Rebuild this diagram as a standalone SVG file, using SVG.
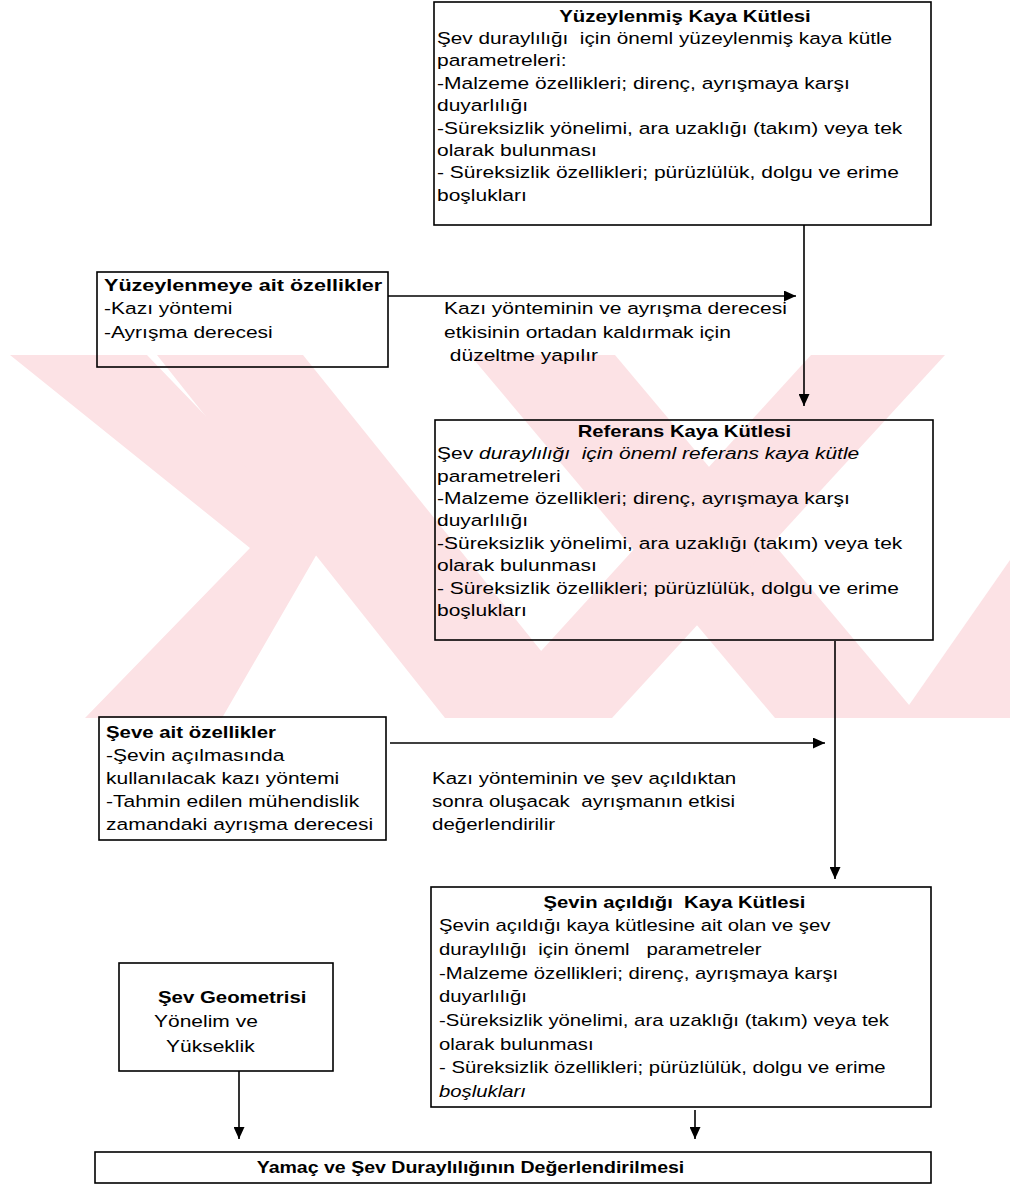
<svg xmlns="http://www.w3.org/2000/svg" width="1010" height="1194" viewBox="0 0 1010 1194">
<defs>
<style>
text{font-family:"Liberation Sans",Arial,sans-serif;font-size:17px;fill:#000;white-space:pre}
.b{font-weight:bold}
.i{font-style:italic}
.box{fill:none;stroke:#000;stroke-width:1.6}
.con{fill:none;stroke:#000;stroke-width:1.6}
.wm{fill:#fce2e5;stroke:none}
</style>
<marker id="arr" markerWidth="12" markerHeight="11" refX="12" refY="5.5" orient="auto" markerUnits="userSpaceOnUse"><path d="M0,0 L12,5.5 L0,11 z" fill="#000"/></marker>
</defs>
<rect width="1010" height="1194" fill="#fff"/>
<g id="watermark">
<polygon class="wm" points="10,355 147,355 325,540 222,718 85,718 250,548"/>
<polygon class="wm" points="157,355 303,355 595,718 445,718"/>
<polygon class="wm" points="470,355 615,355 920,718 775,718"/>
<polygon class="wm" points="811,355 945,355 612,718 480,718"/>
<polygon class="wm" points="1010,560 1010,718 900,718"/>
</g>
<g id="connectors">
<line class="con" x1="804" y1="225" x2="804" y2="406" marker-end="url(#arr)"/>
<line class="con" x1="388" y1="296" x2="796" y2="296" marker-end="url(#arr)"/>
<line class="con" x1="835" y1="641" x2="835" y2="879" marker-end="url(#arr)"/>
<line class="con" x1="390" y1="743" x2="825" y2="743" marker-end="url(#arr)"/>
<line class="con" x1="239" y1="1071" x2="239" y2="1139" marker-end="url(#arr)"/>
<line class="con" x1="695" y1="1110" x2="695" y2="1139" marker-end="url(#arr)"/>
<text transform="translate(444,314) scale(1.235,1)">Kazı yönteminin ve ayrışma derecesi</text>
<text transform="translate(444,338) scale(1.235,1)">etkisinin ortadan kaldırmak için</text>
<text transform="translate(444,361) scale(1.235,1)"> düzeltme yapılır</text>
<text transform="translate(432,784) scale(1.206,1)">Kazı yönteminin ve şev açıldıktan</text>
<text transform="translate(432,807) scale(1.206,1)">sonra oluşacak  ayrışmanın etkisi</text>
<text transform="translate(432,830) scale(1.206,1)">değerlendirilir</text>
</g>
<g id="yuzeylenmis">
<rect class="box" x="434" y="2" width="497" height="223"/>
<text class="b" text-anchor="middle" transform="translate(685,21.5) scale(1.2,1)">Yüzeylenmiş Kaya Kütlesi</text>
<text transform="translate(437,43.9) scale(1.22,1)">Şev duraylılığı  için öneml yüzeylenmiş kaya kütle</text>
<text transform="translate(437,66.3) scale(1.235,1)">parametreleri:</text>
<text transform="translate(437,88.7) scale(1.235,1)">-Malzeme özellikleri; direnç, ayrışmaya karşı</text>
<text transform="translate(437,111.1) scale(1.235,1)">duyarlılığı</text>
<text transform="translate(437,133.5) scale(1.235,1)">-Süreksizlik yönelimi, ara uzaklığı (takım) veya tek</text>
<text transform="translate(437,155.9) scale(1.235,1)">olarak bulunması</text>
<text transform="translate(437,178.3) scale(1.235,1)">- Süreksizlik özellikleri; pürüzlülük, dolgu ve erime</text>
<text transform="translate(437,200.7) scale(1.235,1)">boşlukları</text>
</g>
<g id="yuzeylenmeye">
<rect class="box" x="97" y="272" width="291" height="95"/>
<text class="b" transform="translate(104,291) scale(1.27,1)">Yüzeylenmeye ait özellikler</text>
<text transform="translate(104,314) scale(1.235,1)">-Kazı yöntemi</text>
<text transform="translate(104,338) scale(1.235,1)">-Ayrışma derecesi</text>
</g>
<g id="referans">
<rect class="box" x="435" y="420" width="498" height="220"/>
<text class="b" text-anchor="middle" transform="translate(684.5,436.7) scale(1.19,1)">Referans Kaya Kütlesi</text>
<text transform="translate(437,459.1) scale(1.235,1)">Şev <tspan class="i">duraylılığı  için öneml referans kaya kütle</tspan></text>
<text transform="translate(437,481.5) scale(1.235,1)">parametreleri</text>
<text transform="translate(437,503.9) scale(1.235,1)">-Malzeme özellikleri; direnç, ayrışmaya karşı</text>
<text transform="translate(437,526.3) scale(1.235,1)">duyarlılığı</text>
<text transform="translate(437,548.7) scale(1.235,1)">-Süreksizlik yönelimi, ara uzaklığı (takım) veya tek</text>
<text transform="translate(437,571.1) scale(1.235,1)">olarak bulunması</text>
<text transform="translate(437,593.5) scale(1.235,1)">- Süreksizlik özellikleri; pürüzlülük, dolgu ve erime</text>
<text transform="translate(437,615.9) scale(1.235,1)">boşlukları</text>
</g>
<g id="seve">
<rect class="box" x="99" y="717" width="287" height="123"/>
<text class="b" transform="translate(106,738) scale(1.2,1)">Şeve ait özellikler</text>
<text transform="translate(106,761) scale(1.235,1)">-Şevin açılmasında</text>
<text transform="translate(106,784) scale(1.235,1)">kullanılacak kazı yöntemi</text>
<text transform="translate(106,807) scale(1.235,1)">-Tahmin edilen mühendislik</text>
<text transform="translate(106,830) scale(1.235,1)">zamandaki ayrışma derecesi</text>
</g>
<g id="sevin">
<rect class="box" x="431" y="887" width="500" height="220"/>
<text class="b" text-anchor="middle" transform="translate(674.5,907.5) scale(1.19,1)">Şevin açıldığı  Kaya Kütlesi</text>
<text transform="translate(439,931.2) scale(1.194,1)">Şevin açıldığı kaya kütlesine ait olan ve şev</text>
<text transform="translate(439,954.9) scale(1.194,1)">duraylılığı  için öneml   parametreler</text>
<text transform="translate(439,978.6) scale(1.194,1)">-Malzeme özellikleri; direnç, ayrışmaya karşı</text>
<text transform="translate(439,1002.3) scale(1.194,1)">duyarlılığı</text>
<text transform="translate(439,1026) scale(1.194,1)">-Süreksizlik yönelimi, ara uzaklığı (takım) veya tek</text>
<text transform="translate(439,1049.7) scale(1.194,1)">olarak bulunması</text>
<text transform="translate(439,1073.4) scale(1.194,1)">- Süreksizlik özellikleri; pürüzlülük, dolgu ve erime</text>
<text class="i" transform="translate(439,1097.1) scale(1.194,1)">boşlukları</text>
</g>
<g id="geometri">
<rect class="box" x="119" y="963" width="214" height="108"/>
<text class="b" transform="translate(158,1003) scale(1.2,1)">Şev Geometrisi</text>
<text transform="translate(154,1027) scale(1.235,1)">Yönelim ve</text>
<text transform="translate(166,1052) scale(1.235,1)">Yükseklik</text>
</g>
<g id="degerlendirme">
<rect class="box" x="95" y="1152" width="836" height="31"/>
<text class="b" text-anchor="middle" transform="translate(470.5,1173.3) scale(1.15,1)">Yamaç ve Şev Duraylılığının Değerlendirilmesi</text>
</g>
</svg>
